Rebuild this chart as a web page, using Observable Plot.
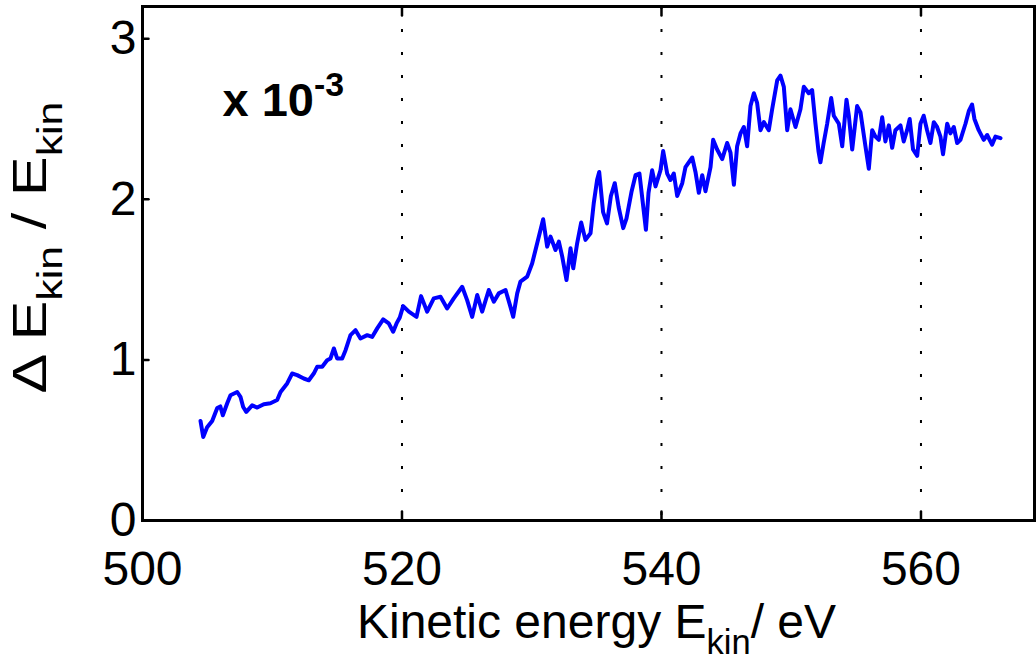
<!DOCTYPE html>
<html><head><meta charset="utf-8">
<script src="https://cdn.jsdelivr.net/npm/d3@7"></script>
<script src="https://cdn.jsdelivr.net/npm/@observablehq/plot@0.6"></script>
<style>body{margin:0;background:#fff} svg{display:block}</style>
</head><body><div id="chart"></div>
<script>
const energy = [504.47,504.68,504.98,505.37,505.76,506.0,506.19,506.53,506.78,507.3,507.55,507.76,508.0,508.45,508.84,509.35,509.86,510.38,510.64,511.15,511.53,511.92,512.43,512.82,513.2,513.46,513.85,514.23,514.49,514.75,515.0,515.39,515.65,516.03,516.42,516.8,517.32,517.7,518.09,518.55,518.98,519.32,519.58,519.83,520.09,520.53,521.12,521.47,521.94,522.45,522.97,523.48,523.99,524.64,525.02,525.41,525.8,526.18,526.69,527.08,527.46,527.98,528.36,528.57,528.88,529.13,529.65,530.03,530.42,530.88,531.19,531.45,531.83,532.09,532.35,532.68,532.99,533.2,533.5,533.81,534.14,534.53,534.78,535.04,535.2,535.5,535.8,536.1,536.4,536.7,537.05,537.3,537.7,538.0,538.3,538.6,538.8,539.0,539.28,539.54,539.92,540.13,540.44,540.69,540.95,541.21,541.6,541.85,542.37,542.62,542.88,543.14,543.39,543.78,543.98,544.29,544.68,545.06,545.32,545.58,545.83,546.09,546.35,546.6,546.86,547.12,547.37,547.63,547.89,548.27,548.53,548.92,549.17,549.43,549.69,549.94,550.33,550.71,550.97,551.35,551.61,551.87,552.1,552.25,552.5,552.77,553.08,553.28,553.67,553.93,554.26,554.44,554.7,555.08,555.34,555.72,555.98,556.24,556.49,556.75,557.01,557.26,557.52,557.78,558.03,558.42,558.67,558.93,559.13,559.39,559.71,559.96,560.21,560.47,560.73,560.99,561.24,561.5,561.7,562.02,562.27,562.53,562.79,563.04,563.43,563.69,563.94,564.12,564.45,564.84,565.1,565.48,565.74,566.13];
const ratio = [0.62,0.52,0.58,0.62,0.70,0.71,0.655,0.73,0.78,0.80,0.77,0.707,0.676,0.717,0.703,0.724,0.73,0.75,0.80,0.853,0.915,0.905,0.884,0.873,0.915,0.957,0.957,0.998,1.009,1.071,1.009,1.009,1.06,1.154,1.185,1.133,1.154,1.143,1.196,1.252,1.227,1.175,1.227,1.264,1.335,1.30,1.268,1.397,1.30,1.383,1.393,1.32,1.383,1.455,1.372,1.268,1.404,1.30,1.435,1.362,1.414,1.435,1.33,1.268,1.414,1.487,1.518,1.60,1.726,1.876,1.705,1.767,1.684,1.736,1.643,1.497,1.695,1.57,1.726,1.855,1.747,1.788,1.976,2.121,2.17,1.92,1.85,2.02,2.10,1.95,1.82,1.88,2.05,2.15,2.16,1.95,1.81,2.04,2.18,2.08,2.18,2.30,2.16,2.12,2.16,2.02,2.10,2.20,2.26,2.17,2.04,2.15,2.05,2.20,2.37,2.31,2.25,2.35,2.29,2.09,2.33,2.41,2.45,2.33,2.58,2.66,2.60,2.43,2.48,2.43,2.56,2.74,2.77,2.70,2.43,2.56,2.45,2.56,2.70,2.66,2.68,2.47,2.30,2.23,2.35,2.47,2.63,2.52,2.47,2.33,2.62,2.52,2.31,2.58,2.54,2.33,2.19,2.43,2.39,2.37,2.51,2.36,2.46,2.32,2.43,2.46,2.36,2.43,2.50,2.31,2.27,2.47,2.52,2.43,2.35,2.48,2.45,2.39,2.28,2.47,2.41,2.45,2.35,2.37,2.47,2.55,2.59,2.50,2.43,2.37,2.40,2.34,2.39,2.38];
const xTicks = [500, 520, 540, 560];
const yTicks = [0, 1, 2, 3];
const gridX = [520, 540, 560];
const innerYTicks = [1, 2, 3];
const xTitle = ["Kinetic energy E", "kin", "/ eV"];
const yTitle = ["\u0394 E", "kin", " / E", "kin"];
const scaleNote = ["x 10", "-3"];

const data = energy.map((e, i) => ({e, r: ratio[i]}));
const tickShape = {draw(ctx, l) { ctx.moveTo(0, 0); ctx.lineTo(0, -l); }};
const font = "'Liberation Sans', Arial, Helvetica, sans-serif";

const chart = Plot.plot({
  width: 1036, height: 659,
  marginLeft: 142, marginRight: 2, marginTop: 6, marginBottom: 139,
  style: {fontFamily: font, fontSize: "48px", background: "#fff", color: "#000"},
  x: {domain: [500, 568.75], label: null},
  y: {domain: [0, 3.2], label: null},
  marks: [
    Plot.ruleX(gridX, {stroke: "#000", strokeWidth: 2, strokeDasharray: "3,20"}),
    Plot.vector(gridX, {x: d => d, frameAnchor: "bottom", length: 9, shape: tickShape, anchor: "start", stroke: "#000", strokeWidth: 2.5}),
    Plot.vector(gridX, {x: d => d, frameAnchor: "top", length: 9, rotate: 180, shape: tickShape, anchor: "start", stroke: "#000", strokeWidth: 2.5}),
    Plot.vector(innerYTicks, {y: d => d, frameAnchor: "left", length: 6, rotate: 90, shape: tickShape, anchor: "start", stroke: "#000", strokeWidth: 2.5}),
    Plot.axisX(xTicks, {tickSize: 0, tickPadding: 30, tickFormat: d => String(d), label: null}),
    Plot.axisY(yTicks, {tickSize: 0, tickPadding: 6, tickFormat: d => String(d), label: null}),
    Plot.line(data, {x: "e", y: "r", stroke: "#0000ff", strokeWidth: 4, strokeLinejoin: "round"}),
    Plot.frame({stroke: "#000", strokeWidth: 3}),
    Plot.text([xTitle.join("")], {text: d => d, frameAnchor: "bottom", dy: 117, dx: 8, lineAnchor: "bottom", textAnchor: "middle", className: "xtitle"}),
    Plot.text([yTitle.join("")], {text: d => d, frameAnchor: "left", dx: -97, dy: -16, rotate: -90, lineAnchor: "bottom", textAnchor: "middle", className: "ytitle"}),
    Plot.text([scaleNote.join("")], {text: d => d, frameAnchor: "top-left", dx: 80, dy: 109, lineAnchor: "bottom", textAnchor: "start", fontWeight: "bold", fontSize: 47, className: "note"})
  ]
});
document.getElementById("chart").appendChild(chart);

function rich(sel, parts, kinds, shifts) {
  const t = sel.text(null);
  let cur = 0;
  parts.forEach((s, i) => {
    const k = kinds[i];
    const target = k === "sub" ? shifts.sub : k === "sup" ? shifts.sup : 0;
    t.append("tspan").attr("dy", target - cur).attr("font-size", k ? "0.72em" : null).text(s);
    cur = target;
  });
  return t;
}
const svg = d3.select(chart);
rich(svg.select("g.xtitle text"), xTitle, [null, "sub", null], {sub: 16, sup: 0});
rich(svg.select("g.ytitle text"), yTitle, [null, "sub", null, "sub"], {sub: 16, sup: 0})
  .attr("textLength", 292).attr("lengthAdjust", "spacingAndGlyphs");
rich(svg.select("g.note text"), scaleNote, [null, "sup"], {sub: 0, sup: -20});
</script>
</body></html>
